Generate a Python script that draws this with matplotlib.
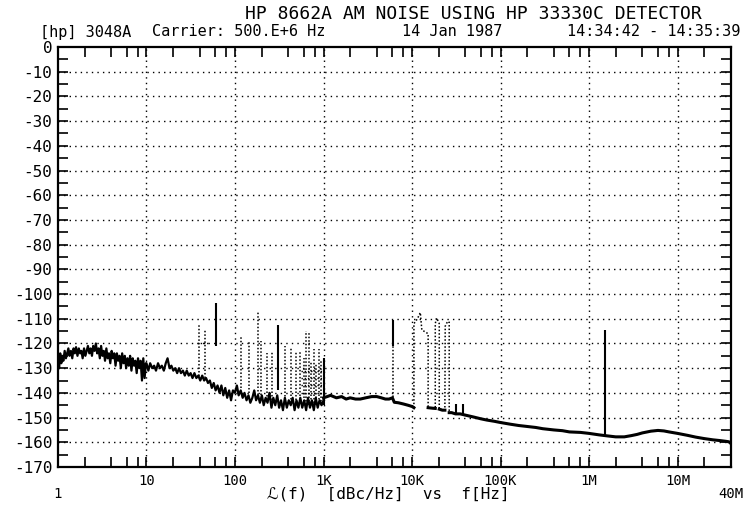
import numpy as np
import matplotlib
matplotlib.use("Agg")
import matplotlib.pyplot as plt
from matplotlib.ticker import FixedLocator, NullFormatter
from matplotlib.transforms import blended_transform_factory

plt.rcParams['font.family'] = ['DejaVu Sans Mono', 'DejaVu Sans']
plt.rcParams['axes.unicode_minus'] = False

# ---- text ----
title = "HP 8662A AM NOISE USING HP 33330C DETECTOR"
subtitle_parts = ["[hp] 3048A", "Carrier: 500.E+6 Hz", "14 Jan 1987", "14:34:42 - 14:35:39"]
x_label = "\u2112(f)  [dBc/Hz]  vs  f[Hz]"
decade_f = [10, 100, 1e3, 1e4, 1e5, 1e6, 1e7]
decade_labels = ["10", "100", "1K", "10K", "100K", "1M", "10M"]
y_ticks = list(range(-170, 1, 10))
start_label, stop_label = "1", "40M"

# ---- noise trace ----
# 1 Hz .. 10 Hz
lf_f = [1.00, 1.03, 1.06, 1.09, 1.12, 1.15, 1.19, 1.23, 1.27, 1.31,
        1.35, 1.40, 1.45, 1.50, 1.55, 1.60, 1.66, 1.72, 1.78, 1.84,
        1.90, 1.97, 2.04, 2.11, 2.18, 2.26, 2.34, 2.42, 2.50, 2.59,
        2.68, 2.77, 2.87, 2.97, 3.07, 3.18, 3.29, 3.40, 3.52, 3.64,
        3.77, 3.90, 4.04, 4.18, 4.32, 4.47, 4.63, 4.79, 4.96, 5.13,
        5.31, 5.50, 5.69, 5.89, 6.09, 6.31, 6.53, 6.76, 6.99, 7.24,
        7.49, 7.75, 8.02, 8.30, 8.59, 8.89, 9.20, 9.52, 9.85]
lf_db = [-126, -130, -124, -128, -125, -127, -123, -126, -124, -122,
         -125, -123, -126, -122, -124, -121.5, -125, -122, -124, -123,
         -126, -122, -125, -123, -121, -124, -122, -125, -121, -123,
         -120, -124, -122, -126, -121, -125, -123, -127, -122, -126,
         -124, -128, -123, -126, -124, -129, -124, -127, -125, -130,
         -124, -128, -125, -130, -126, -129, -125, -131, -126, -129,
         -127, -132, -126, -130, -127, -135, -126, -134, -128]
# 10 Hz .. 1 kHz
mid_f = [10.0, 10.5, 11.0, 11.6, 12.2, 12.8, 13.5, 14.2, 14.9, 15.7,
         16.5, 17.3, 18.2, 19.1, 20.1, 21.1, 22.2, 23.3, 24.5, 25.8,
         27.1, 28.5, 30.0, 31.5, 33.1, 34.8, 36.6, 38.5, 40.5, 42.6,
         44.8, 47.1, 49.5, 52.0, 54.7, 57.5, 60.4, 63.5, 66.8, 70.2,
         73.8, 77.6, 81.6, 85.8, 90.2, 94.8, 99.7, 105, 110, 116,
         122, 128, 135, 142, 149, 157, 165, 173, 182, 191,
         201, 211, 222, 233, 245, 258, 271, 285, 300, 315,
         331, 348, 366, 385, 405, 426, 448, 471, 495, 520,
         547, 575, 605, 636, 668, 703, 739, 777, 817, 859,
         903, 950, 1000]
mid_db = [-128, -131, -128, -130, -129, -131, -128, -130, -129, -131,
          -128, -126, -130, -129, -131, -130, -132, -130, -132, -131,
          -133, -131, -133, -132, -134, -132, -134, -133, -135, -133,
          -135, -134, -136, -135, -138, -136, -139, -137, -140, -137,
          -141, -138, -142, -139, -143, -139, -140, -137, -141, -139,
          -142, -140, -143, -141, -144, -142, -139, -143, -141, -144,
          -141, -145, -142, -144, -140, -146, -142, -145, -141, -146,
          -143, -147, -142, -146, -143, -145, -142, -147, -143, -146,
          -142, -146, -143, -147, -142, -146, -143, -147, -142, -146,
          -143, -145, -143]
# 1 kHz .. 40 MHz (nan = pen up under the swept spurs)
hf_f = [1000, 1100, 1200, 1400, 1600, 1800, 2000, 2300, 2600, 3000,
        3500, 4000, 4500, 5000, 5500, 6000, 6300, 7000, 8000, 9000,
        10000, 10500, np.nan, 15200, 17000, 18300, np.nan, 20300, 22000, 23500,
        np.nan, 26300, 28000, 31000, 35000, 40000, 50000, 60000, 70000, 85000,
        1e5, 1.3e5, 1.6e5, 2e5, 2.5e5, 3e5, 4e5, 5e5, 6e5, 8e5,
        1e6, 1.3e6, 1.6e6, 2e6, 2.5e6, 3e6, 3.5e6, 4e6, 5e6, 6e6,
        7e6, 8e6, 1e7, 1.3e7, 1.6e7, 2e7, 2.5e7, 3e7, 3.5e7, 3.8e7,
        4e7]
hf_db = [-142, -141.5, -141, -142, -141.5, -142.5, -142, -142.5, -142.5, -142,
         -141.5, -141.5, -142, -142.5, -142.5, -142, -143.8, -144, -144.5, -145,
         -145.5, -146, np.nan, -146, -146.2, -146.3, np.nan, -146.6, -147, -147,
         np.nan, -148, -148, -148.5, -148.5, -149, -149.8, -150.5, -151, -151.5,
         -152, -152.7, -153.2, -153.6, -154, -154.5, -155, -155.3, -155.8, -156,
         -156.4, -157, -157.4, -157.8, -157.8, -157.3, -156.8, -156.2, -155.5, -155.2,
         -155.4, -155.8, -156.4, -157.2, -157.9, -158.5, -159, -159.3, -159.6, -159.8,
         -160.5]

# ---- discrete spurs: solid ----
solid_f = [61, 308, 1000, 6100, 31300, 37900, 1.52e6]
solid_top = [-103.5, -112.5, -126, -110.5, -144.7, -144.3, -114.5]
solid_base = [-121, -139, -145, -121, -148.5, -148.8, -157.2]

# ---- spurs drawn dotted ----
spur_f = [39.5, 46, 118, 143, 181, 199, 230, 260, 366, 424, 483, 540, 600, 638, 684,
          720, 780, 820, 887, 940, 6100]
spur_top = [-112.5, -114.3, -117.5, -119.6, -107, -119, -124, -123, -121, -121.6, -123.6,
            -123, -126, -115, -115.7, -127, -122.4, -128, -122.4, -127, -121]
spur_base = [-133, -134, -138, -140, -141, -141, -143, -143, -143, -144, -143, -144, -145,
             -145, -145, -144, -144, -145, -144, -145, -141.5]
hatch_f0 = [37, 560, 560, 560, 560]
hatch_f1 = [49, 960, 960, 960, 960]
hatch_db = [-119.7, -131, -134, -137, -140]

# dotted sweep between 10 kHz and 27 kHz
sweep_f = [10500, 10500, 11500, 12400, 12900, 14800, 15200, 15200, 18300, 18300, 18900,
           19800, 20300, 20300, 23500, 23700, 24800, 25600, 26300, 26300]
sweep_db = [-146, -112, -110, -107.5, -114.5, -115.8, -116, -146, -146.3, -112, -109.7,
            -111, -112, -146.6, -147, -113, -111.6, -111, -111.5, -148]

fig = plt.figure(figsize=(7.51, 5.12), dpi=100)
ax = fig.add_axes([0.0772, 0.0879, 0.896, 0.8203])
ax.set_xscale('log')
ax.set_xlim(1, 4e7)
ax.set_ylim(-170, 0)

dots = (0, (1, 3))
for gx in decade_f:
    ax.axvline(gx, color='black', lw=1.0, ls=dots, zorder=1)
for gy in range(-160, 0, 10):
    ax.axhline(gy, color='black', lw=1.0, ls=dots, zorder=1)

ax.plot(lf_f + mid_f, lf_db + mid_db, color='black', lw=1.6, zorder=3)
ax.plot(hf_f, hf_db, color='black', lw=2.2, zorder=3)
ax.vlines(solid_f, solid_base, solid_top, colors='black', lw=1.5, zorder=3)
ax.vlines(spur_f, spur_base, spur_top, colors='black', lw=1.1,
          linestyles=[(0, (1, 1.3))], zorder=2)
ax.hlines(hatch_db, hatch_f0, hatch_f1, colors='black', lw=1.0,
          linestyles=[(0, (1, 1.3))], zorder=2)
ax.plot(sweep_f, sweep_db, color='black', lw=1.1, ls=(0, (1, 1.3)), zorder=2)

# ticks
minor_f = [m * 10 ** k for k in range(0, 8) for m in (2, 4, 6, 8) if m * 10 ** k < 4e7]
ax.set_xticks(decade_f)
ax.set_xticklabels(decade_labels)
ax.xaxis.set_minor_locator(FixedLocator(minor_f))
ax.xaxis.set_minor_formatter(NullFormatter())
ax.set_yticks(y_ticks)
ax.set_yticklabels([str(v) for v in y_ticks])
ax.yaxis.set_minor_locator(FixedLocator(list(range(-165, 0, 10))))
ax.tick_params(which='both', direction='in', length=7, width=1.2,
               top=True, right=True, colors='black')
ax.tick_params(axis='x', which='major', labelsize=10, pad=5)
ax.tick_params(axis='y', which='major', labelsize=11.5, pad=4)
for s in ax.spines.values():
    s.set_linewidth(1.6)

tr = blended_transform_factory(ax.transData, ax.transAxes)
ax.text(1, -0.064, start_label, transform=tr, ha='center', va='center', fontsize=10)
ax.text(4e7, -0.064, stop_label, transform=tr, ha='center', va='center', fontsize=10)
fig.text(388 / 751, 1 - 494 / 512, x_label, ha='center', va='center', fontsize=11.5)

fig.text(473 / 751, 1 - 14 / 512, title, ha='center', va='center', fontsize=13)
sub_x = [40, 152, 402, 740]
sub_ha = ['left', 'left', 'left', 'right']
for txt, px, ha in zip(subtitle_parts, sub_x, sub_ha):
    fig.text(px / 751, 1 - 32 / 512, txt, ha=ha, va='center', fontsize=11)

fig.savefig('out.png', dpi=100, facecolor='white')
